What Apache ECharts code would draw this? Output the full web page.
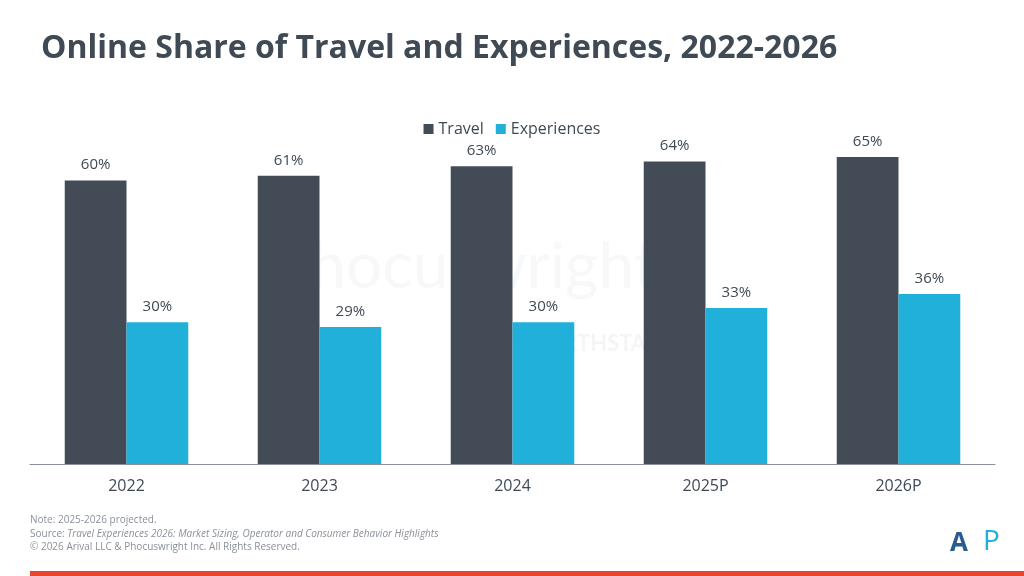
<!DOCTYPE html>
<html><head><meta charset="utf-8">
<script src="https://cdn.jsdelivr.net/npm/echarts@6/dist/echarts.min.js"></script>
<style>html,body{margin:0;padding:0;background:#fff}#c{width:1024px;height:576px}</style>
</head><body><div id="c"></div>
<script>
const categories = ['2022','2023','2024','2025P','2026P'];
const travel = [60,61,63,64,65];
const experiences = [30,29,30,33,36];
const chart = echarts.init(document.getElementById('c'));
const F = 'Open Sans';
const lbl = {show:true,position:'top',formatter:'{c}%',color:'#3f4a55',fontSize:15,fontFamily:F,distance:8};
chart.setOption({
  animation:false,
  title:{text:'Online Share of Travel and Experiences, 2022-2026',left:36,top:28,
    textStyle:{fontFamily:F,fontWeight:'bold',fontSize:32,color:'#3f4a55'}},
  legend:{top:116,left:'center',itemWidth:10,itemHeight:10,itemGap:12,icon:'rect',
    textStyle:{fontFamily:F,fontSize:16,color:'#3f4a55'}},
  grid:{left:30,right:29,top:86,bottom:112},
  xAxis:{type:'category',data:categories,axisTick:{show:false},
    axisLine:{lineStyle:{color:'#8a9099'}},
    axisLabel:{fontFamily:F,fontSize:16,color:'#3f4a55',margin:14}},
  yAxis:{type:'value',min:0,max:80,show:false,splitLine:{show:false}},
  graphic:[
    {type:'text',left:272,top:235,z:-1,style:{text:'Phocuswright',fontFamily:'Lato',fontSize:64,fill:'rgba(200,206,212,0.15)'}},
    {type:'text',left:495,top:333,z:-1,style:{text:'BY NORTHSTAR',fontFamily:'Lato',fontSize:22,fontWeight:'bold',fill:'rgba(200,206,212,0.2)'}},
    {type:'text',left:30,top:515,style:{text:'Note: 2025-2026 projected.',fontFamily:F,fontSize:10,fill:'#8a9099'}},
    {type:'text',left:30,top:529,style:{rich:{a:{fontFamily:F,fontSize:10,fill:'#8a9099'},b:{fontFamily:F,fontSize:10,fontStyle:'italic',fill:'#8a9099'}},text:'{a|Source: }{b|Travel Experiences 2026: Market Sizing, Operator and Consumer Behavior Highlights}'}},
    {type:'text',left:30,top:542,style:{text:'© 2026 Arival LLC & Phocuswright Inc. All Rights Reserved.',fontFamily:F,fontSize:10,fill:'#8a9099'}},
    {type:'text',left:950,top:531,style:{text:'A',fontFamily:F,fontWeight:'bold',fontSize:26,fill:'#2a5d8f'}},
    {type:'text',left:983,top:528,style:{text:'P',fontFamily:F,fontSize:28,fill:'#21b0da'}},
    {type:'rect',shape:{x:30,y:571,width:994,height:5},style:{fill:'#e8452c'}}
  ],
  series:[
    {name:'Travel',type:'bar',data:travel,barGap:'0%',barCategoryGap:'36%',itemStyle:{color:'#434c56'},label:lbl},
    {name:'Experiences',type:'bar',data:experiences,itemStyle:{color:'#21b0da'},label:lbl}
  ]
});
</script></body></html>
